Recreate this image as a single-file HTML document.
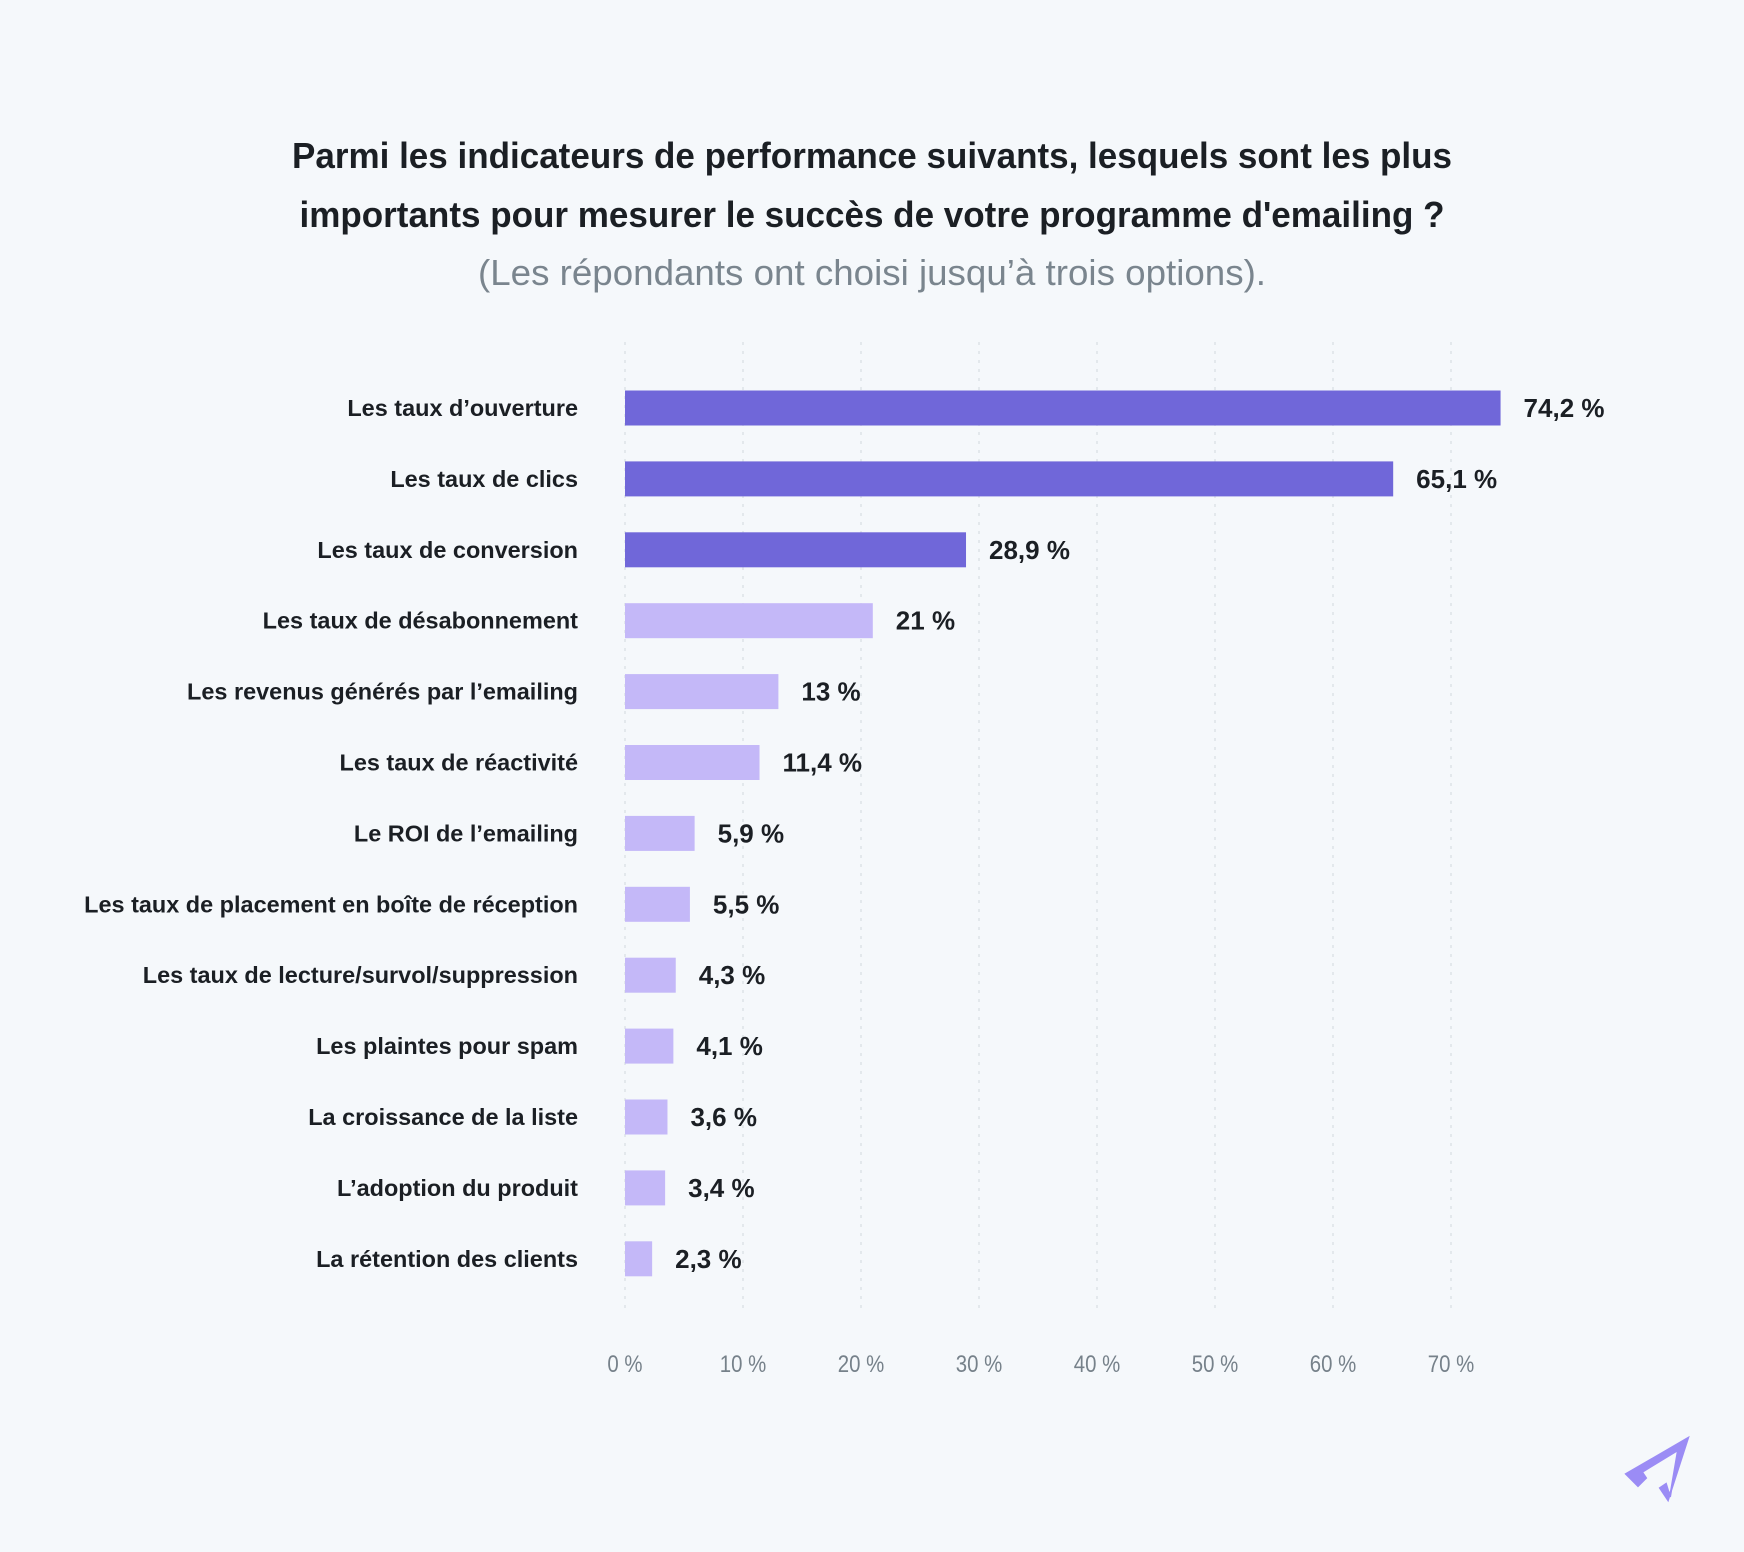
<!DOCTYPE html>
<html><head><meta charset="utf-8">
<style>
html,body{margin:0;padding:0;background:#f5f8fb;}
svg{display:block;font-family:"Liberation Sans",sans-serif;}
</style></head>
<body>
<svg id="chart" width="1744" height="1552" viewBox="0 0 1744 1552" xmlns="http://www.w3.org/2000/svg">
<rect width="1744" height="1552" fill="#f5f8fb"/>
<text x="872" y="168" text-anchor="middle" font-size="36" font-weight="bold" fill="#1b1f24" textLength="1160" lengthAdjust="spacingAndGlyphs">Parmi les indicateurs de performance suivants, lesquels sont les plus</text>
<text x="872" y="227" text-anchor="middle" font-size="36" font-weight="bold" fill="#1b1f24" textLength="1145" lengthAdjust="spacingAndGlyphs">importants pour mesurer le succès de votre programme d'emailing ?</text>
<text x="872" y="285" text-anchor="middle" font-size="36" fill="#7a858e" textLength="788" lengthAdjust="spacingAndGlyphs">(Les répondants ont choisi jusqu’à trois options).</text>
<g id="grid"></g>
<g id="bars"></g>
<g id="ticks"></g>
<g>
<path d="M1688 1438 L1626 1474 L1638 1486 L1646 1478 L1642 1472 L1678 1450 L1670 1497 L1666 1484 L1660 1488 L1668 1500 Z" fill="#9b8cf5" stroke="#9b8cf5" stroke-width="2" stroke-linejoin="miter"/>
</g>
</svg>
<script>
const categories = ["Les taux d’ouverture","Les taux de clics","Les taux de conversion","Les taux de désabonnement","Les revenus générés par l’emailing","Les taux de réactivité","Le ROI de l’emailing","Les taux de placement en boîte de réception","Les taux de lecture/survol/suppression","Les plaintes pour spam","La croissance de la liste","L’adoption du produit","La rétention des clients"];
const values = [74.2,65.1,28.9,21,13,11.4,5.9,5.5,4.3,4.1,3.6,3.4,2.3];
const valueLabels = ["74,2 %","65,1 %","28,9 %","21 %","13 %","11,4 %","5,9 %","5,5 %","4,3 %","4,1 %","3,6 %","3,4 %","2,3 %"];
const highlighted = [true,true,true,false,false,false,false,false,false,false,false,false,false];
const tickValues = [0,10,20,30,40,50,60,70];
const tickLabels = ["0 %","10 %","20 %","30 %","40 %","50 %","60 %","70 %"];

const NS="http://www.w3.org/2000/svg";
const x0=625, pxPer=11.8, rowY0=408, rowStep=70.9, barH=35, sx=0.85, lsx=1.02, vsx=1.0;
const xs=v=>x0+v*pxPer;
const ys=i=>rowY0+i*rowStep;
function mk(tag,attrs,parent){const e=document.createElementNS(NS,tag);for(const k in attrs)e.setAttribute(k,attrs[k]);parent.appendChild(e);return e;}
const grid=document.getElementById('grid'), bars=document.getElementById('bars'), ticks=document.getElementById('ticks');
const tg=mk('g',{transform:`scale(${sx},1)`},ticks);
tickValues.forEach((t,i)=>{
  const l=mk('line',{x1:xs(t),x2:xs(t),y1:342,y2:1312,stroke:'#dde2e8','stroke-width':1.5,'stroke-dasharray':'3 6'},grid);
  
  
  const tx=mk('text',{x:xs(t)/sx,y:1372,'text-anchor':'middle','font-size':24,fill:'#76818a'},tg);
  tx.textContent=tickLabels[i];
  
  
});
const lg=mk('g',{transform:`scale(${lsx},1)`},bars);
const vg=mk('g',{transform:`scale(${vsx},1)`},bars);
categories.forEach((c,i)=>{
  const y=ys(i);
  const r=mk('rect',{x:x0,y:y-barH/2,width:xs(values[i])-x0,height:barH,fill:highlighted[i]?'#7067d9':'#c4b8f8'},bars);
  
  
  const lab=mk('text',{x:578/lsx,y:y+8,'text-anchor':'end','font-size':23,'font-weight':'bold',fill:'#1b1f24'},lg);
  lab.textContent=c;
  
  
  const vl=mk('text',{x:(xs(values[i])+23)/vsx,y:y+9,'font-size':26,'font-weight':'bold',fill:'#1b1f24'},vg);
  vl.textContent=valueLabels[i];
  
  
});
</script>
</body></html>
